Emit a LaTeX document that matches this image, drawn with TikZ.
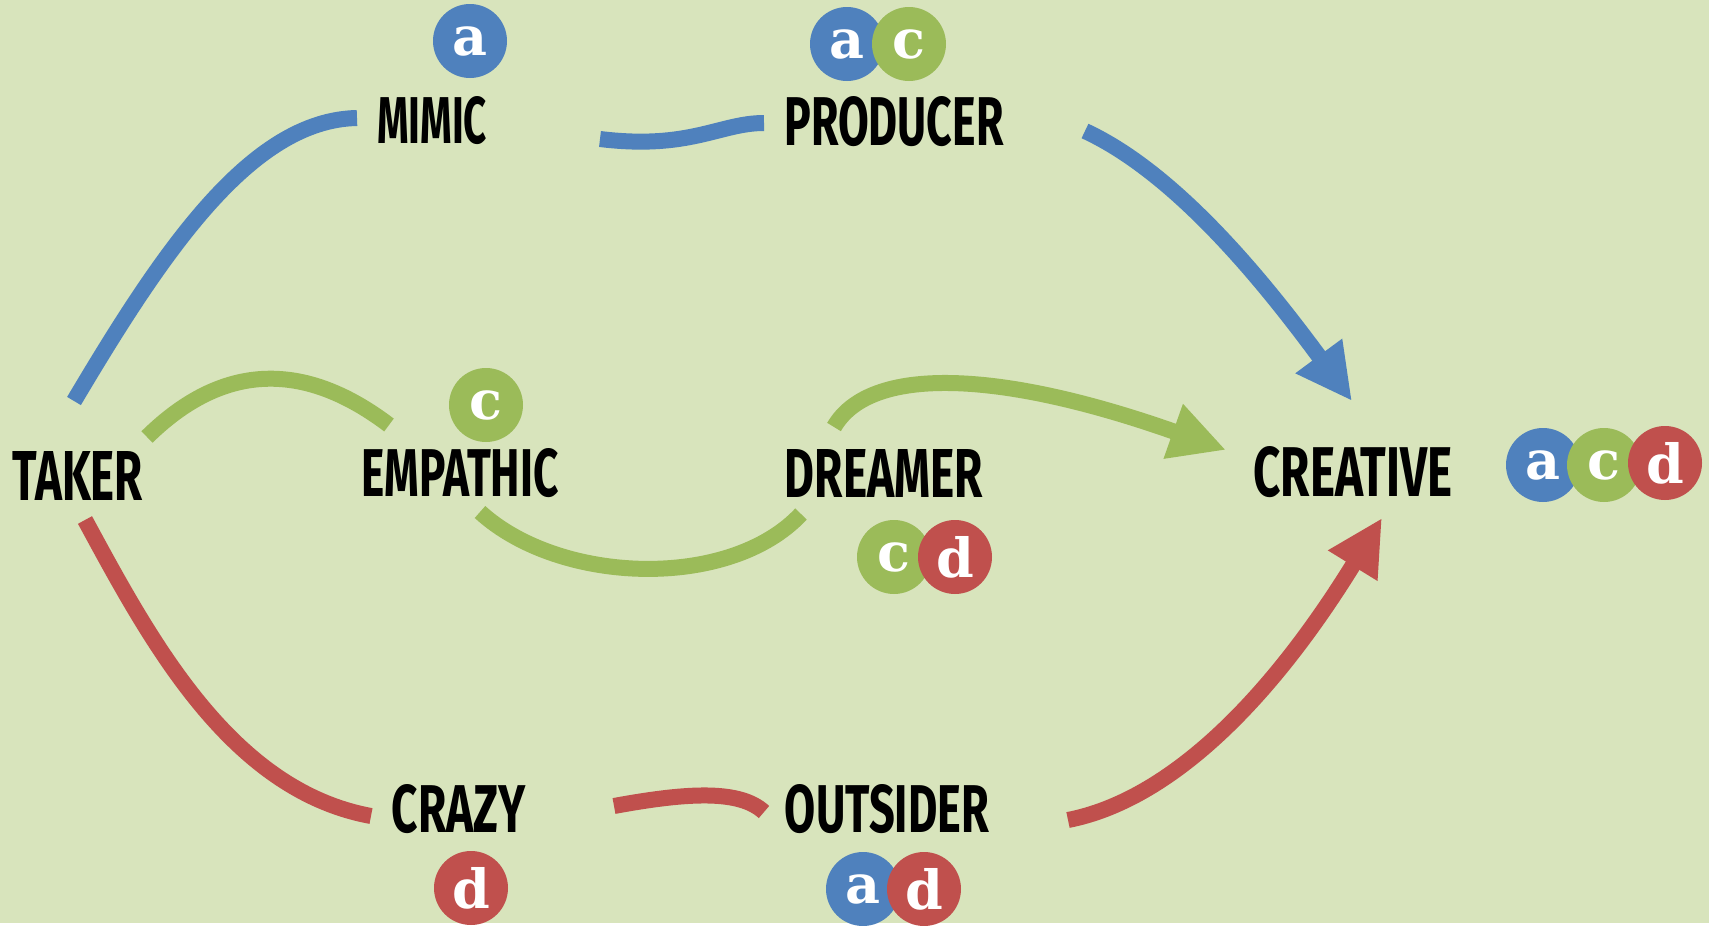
\documentclass[tikz,border=0pt]{standalone}
\usepackage{fontspec}
\usepackage{graphicx}
\usetikzlibrary{arrows.meta}
\newfontfamily\lblfont{Fira Sans}
\newfontfamily\letfont{DejaVu Serif}
\definecolor{bg}{HTML}{D8E4BC}
\definecolor{cblue}{HTML}{4F81BD}
\definecolor{cgreen}{HTML}{9BBB59}
\definecolor{cred}{HTML}{C0504D}
\newcommand\lbltext[3]{\resizebox{#1pt}{#2pt}{\lblfont\bfseries #3}}
\tikzset{
  lbl/.style={inner sep=0pt, outer sep=0pt},
  badge/.style={circle, fill=#1, minimum size=74pt, inner sep=0pt, text=white,
    font=\letfont\bfseries\fontsize{54}{54}\selectfont},
  conn/.style={line width=16pt, draw=#1, line cap=butt},
  tipped/.style={-{Triangle[length=56pt,width=54pt]}},
}
\begin{document}
\begin{tikzpicture}[x=1pt,y=-1pt]
\fill[bg] (0,0) rectangle (1709,923);

% labels
\node[lbl] (taker)    at (78,476)   {\lbltext{130}{49}{TAKER}};
\node[lbl] (mimic)    at (432,121)  {\lbltext{110}{47}{MIMIC}};
\node[lbl] (producer) at (894,122)  {\lbltext{219}{49}{PRODUCER}};
\node[lbl] (empathic) at (460,473)  {\lbltext{197}{48}{EMPATHIC}};
\node[lbl] (dreamer)  at (884,473)  {\lbltext{198}{48}{DREAMER}};
\node[lbl] (creative) at (1353,472) {\lbltext{199}{50}{CREATIVE}};
\node[lbl] (crazy)    at (459,809)  {\lbltext{134}{48}{CRAZY}};
\node[lbl] (outsider) at (887,809)  {\lbltext{204}{48}{OUTSIDER}};

% badges
\node[badge=cblue]  (am) at (470,41) {a};
\node[badge=cblue]  (ap) at (847,44) {a};
\node[badge=cgreen] (cp) at (909,44) {c};
\node[badge=cgreen] (ce) at (486,405) {c};
\node[badge=cgreen] (cd) at (894,557) {c};
\node[badge=cred]   (dd) at (955,557) {d};
\node[badge=cblue]  (ac) at (1543,465) {a};
\node[badge=cgreen] (cc) at (1604,465) {c};
\node[badge=cred]   (dc) at (1665,463) {d};
\node[badge=cred]   (dz) at (471,888) {d};
\node[badge=cblue]  (ao) at (863,889) {a};
\node[badge=cred]   (do) at (924,889) {d};

% blue connectors
\draw[conn=cblue] ([shift={(-4,-75)}]taker.center)
  .. controls (163,251) and (251,120) .. ([shift={(-75,-3)}]mimic.center);
\draw[conn=cblue] ([shift={(168,18)}]mimic.center)
  .. controls (690,150) and (720,123) .. ([shift={(-130,1)}]producer.center);
\draw[conn=cblue, tipped] ([shift={(191,9)}]producer.center)
  .. controls (1180,175) and (1270,290) .. ([shift={(-1,-71)}]creative.center);

% green connectors
\draw[conn=cgreen] ([shift={(69,-39)}]taker.center)
  .. controls (210,375) and (290,350) .. ([shift={(-71,-48)}]empathic.center);
\draw[conn=cgreen] ([shift={(20,39)}]empathic.center)
  .. controls (560,585) and (730,590) .. ([shift={(-83,41)}]dreamer.center);
\draw[conn=cgreen, tipped] ([shift={(-50,-46)}]dreamer.center)
  .. controls (870,365) and (1000,370) .. ([shift={(-127,-22)}]creative.center);

% red connectors
\draw[conn=cred] ([shift={(7,44)}]taker.center)
  .. controls (150,640) and (230,790) .. ([shift={(-88,7)}]crazy.center);
\draw[conn=cred] ([shift={(155,-3)}]crazy.center)
  .. controls (690,792) and (740,790) .. ([shift={(-123,3)}]outsider.center);
\draw[conn=cred, tipped] ([shift={(181,11)}]outsider.center)
  .. controls (1170,800) and (1270,700) .. ([shift={(29,46)}]creative.center);
\end{tikzpicture}
\end{document}
